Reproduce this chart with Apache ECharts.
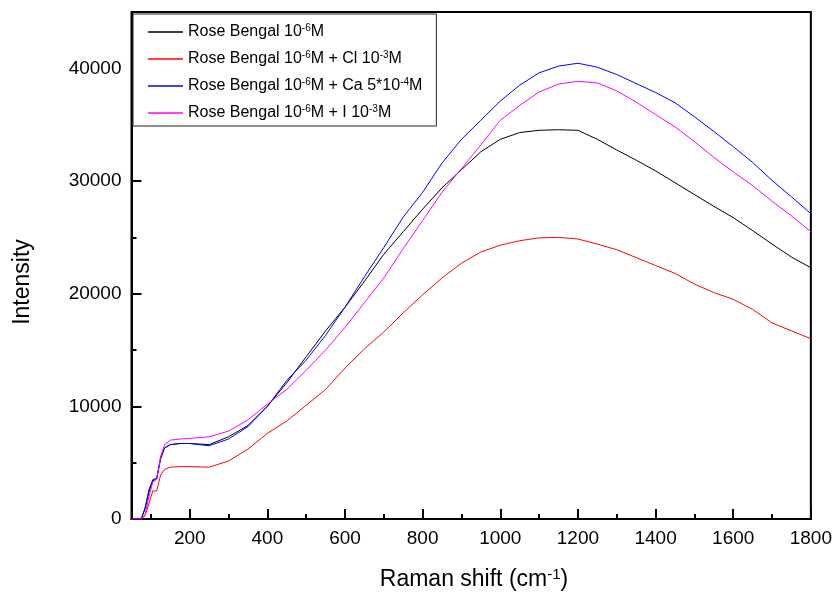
<!DOCTYPE html>
<html>
<head>
<meta charset="utf-8">
<script src="https://cdn.jsdelivr.net/npm/echarts@6/dist/echarts.min.js"></script>
<style>html,body{margin:0;padding:0;background:#fff;}#c{width:835px;height:592px;}</style>
</head>
<body>
<div id="c"></div>
<script>
// Raman shift (cm-1)
const ramanShift = [50, 75, 85, 95, 105, 115, 125, 135, 150, 175, 200, 250, 300, 350, 400, 450, 500, 550, 600, 650, 700, 750, 800, 850, 900, 950, 1000, 1050, 1100, 1150, 1200, 1250, 1300, 1350, 1400, 1450, 1500, 1550, 1600, 1650, 1700, 1750, 1800];
const rbOnly = [0, 0, 900, 2400, 3400, 3600, 5300, 6300, 6600, 6700, 6700, 6600, 7300, 8300, 10000, 12100, 14400, 16700, 18800, 21100, 23500, 25500, 27500, 29400, 31000, 32600, 33700, 34300, 34500, 34550, 34500, 33700, 32750, 31850, 30900, 29850, 28800, 27750, 26750, 25600, 24400, 23250, 22300];
const rbCl = [0, 0, 300, 1400, 2500, 2500, 3900, 4400, 4600, 4650, 4650, 4600, 5150, 6200, 7600, 8700, 10100, 11500, 13400, 15100, 16600, 18300, 19900, 21400, 22700, 23700, 24300, 24700, 24950, 25000, 24850, 24400, 23900, 23200, 22500, 21800, 20850, 20100, 19500, 18600, 17400, 16700, 16000];
const rbCa = [0, 0, 1000, 2600, 3500, 3600, 5500, 6300, 6600, 6700, 6700, 6500, 7100, 8200, 10000, 12300, 14100, 16300, 18800, 21500, 24100, 26800, 29000, 31600, 33700, 35400, 37100, 38500, 39600, 40200, 40450, 40100, 39450, 38650, 37850, 36950, 35700, 34400, 33050, 31650, 30050, 28600, 27100];
const rbI = [0, 0, 400, 2000, 3300, 3500, 5500, 6600, 7000, 7100, 7150, 7300, 7800, 8800, 10200, 11500, 13200, 15000, 17000, 19200, 21400, 24000, 26500, 29000, 31100, 33200, 35400, 36700, 37900, 38600, 38850, 38700, 38000, 37000, 35900, 34800, 33500, 32100, 30800, 29600, 28200, 26900, 25500];

const seriesNames = ['Rose Bengal 10-6M', 'Rose Bengal 10-6M + Cl 10-3M', 'Rose Bengal 10-6M + Ca 5*10-4M', 'Rose Bengal 10-6M + I 10-3M'];
const legendLabels = [
  '{a|Rose Bengal 10}{s|-6}{a|M}',
  '{a|Rose Bengal 10}{s|-6}{a|M + Cl 10}{s|-3}{a|M}',
  '{a|Rose Bengal 10}{s|-6}{a|M + Ca 5*10}{s|-4}{a|M}',
  '{a|Rose Bengal 10}{s|-6}{a|M + I 10}{s|-3}{a|M}'
];
const seriesColors = ['#000000', '#ff0000', '#0000ff', '#ff00ff'];
const seriesValues = [rbOnly, rbCl, rbCa, rbI];

const xMajorTicks = [200, 400, 600, 800, 1000, 1200, 1400, 1600, 1800];
const xMinorTicks = [100, 300, 500, 700, 900, 1100, 1300, 1500, 1700];
const yMajorTicks = [0, 10000, 20000, 30000, 40000];
const yMinorTicks = [5000, 15000, 25000, 35000, 45000];

const FONT = 'Liberation Sans, Arial, sans-serif';

const chart = echarts.init(document.getElementById('c'), null, {renderer: 'canvas'});

const series = seriesNames.map((n, i) => ({
  name: n,
  type: 'line',
  xAxisIndex: 0,
  yAxisIndex: 0,
  showSymbol: false,
  symbol: 'none',
  smooth: false,
  color: seriesColors[i],
  lineStyle: {width: 1, color: seriesColors[i]},
  data: ramanShift.map((x, k) => [x, seriesValues[i][k]]),
  animation: false
}));

const plain = v => String(v);

const option = {
  animation: false,
  backgroundColor: '#fff',
  grid: {left: 131.5, right: 22.5, top: 12, bottom: 73, show: true, borderColor: '#000', borderWidth: 2, backgroundColor: 'transparent'},
  legend: {
    orient: 'vertical',
    left: 133,
    top: 14,
    padding: [9, 14, 5, 15],
    itemGap: 10,
    itemWidth: 35,
    itemHeight: 1.5,
    icon: 'rect',
    selectedMode: false,
    borderColor: '#222',
    borderWidth: 1,
    backgroundColor: '#fff',
    data: seriesNames,
    formatter: function (name) { return legendLabels[seriesNames.indexOf(name)]; },
    textStyle: {
      fontFamily: FONT, color: '#000', fontSize: 16,
      rich: {
        a: {fontFamily: FONT, fontSize: 16, color: '#000', lineHeight: 18, verticalAlign: 'middle'},
        s: {fontFamily: FONT, fontSize: 10, color: '#000', lineHeight: 18, verticalAlign: 'top'}
      }
    }
  },
  xAxis: [{
    type: 'value', min: 50, max: 1800, position: 'bottom',
    axisLine: {show: true, lineStyle: {color: '#000', width: 2}},
    axisTick: {show: true, inside: true, length: 10, lineStyle: {color: '#000', width: 2}, customValues: xMajorTicks},
    axisLabel: {show: true, customValues: xMajorTicks, formatter: plain, fontFamily: FONT, fontSize: 19, color: '#000', margin: 10},
    splitLine: {show: false}
  }, {
    type: 'value', min: 50, max: 1800, position: 'bottom',
    axisLine: {show: false},
    axisTick: {show: true, inside: true, length: 5, lineStyle: {color: '#000', width: 2}, customValues: xMinorTicks},
    axisLabel: {show: false},
    splitLine: {show: false}
  }],
  yAxis: [{
    type: 'value', min: 0, max: 45000, position: 'left',
    axisLine: {show: true, lineStyle: {color: '#000', width: 2}},
    axisTick: {show: true, inside: true, length: 10, lineStyle: {color: '#000', width: 2}, customValues: yMajorTicks},
    axisLabel: {show: true, customValues: yMajorTicks, formatter: plain, fontFamily: FONT, fontSize: 19, color: '#000', margin: 10},
    splitLine: {show: false}
  }, {
    type: 'value', min: 0, max: 45000, position: 'left',
    axisLine: {show: false},
    axisTick: {show: true, inside: true, length: 5, lineStyle: {color: '#000', width: 2}, customValues: yMinorTicks},
    axisLabel: {show: false},
    splitLine: {show: false}
  }],
  graphic: [{
    type: 'text', x: 23, y: 282, rotation: Math.PI / 2,
    style: {text: 'Intensity', fontFamily: FONT, fontSize: 23, fill: '#000', align: 'center', verticalAlign: 'middle'}
  }, {
    type: 'text', x: 474, y: 580,
    style: {
      text: '{a|Raman shift (cm}{s|-1}{a|)}', align: 'center', verticalAlign: 'middle',
      rich: {
        a: {fontFamily: FONT, fontSize: 23, fill: '#000', lineHeight: 26, verticalAlign: 'middle'},
        s: {fontFamily: FONT, fontSize: 15, fill: '#000', lineHeight: 26, verticalAlign: 'top'}
      }
    }
  }],
  series: series
};
chart.setOption(option);
</script>
</body>
</html>
